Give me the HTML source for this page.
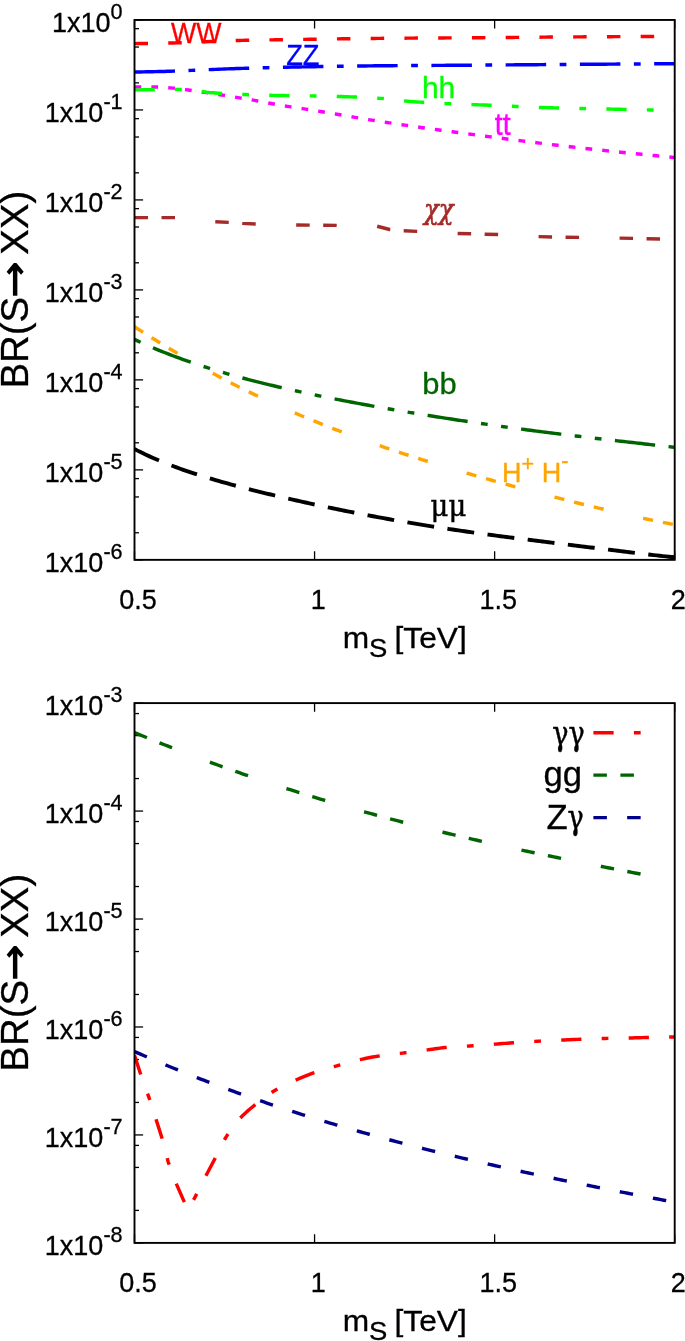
<!DOCTYPE html>
<html lang="en"><head><meta charset="utf-8"><title>BR(S &#8594; XX) vs m_S</title>
<style>html,body{margin:0;padding:0;background:#fff}svg{display:block;will-change:transform}text{font-family:"Liberation Sans", Arial, Helvetica, sans-serif;font-size:27px;color:#000;fill:currentColor;stroke:currentColor;stroke-width:.3px}.sym{font-family:"Liberation Serif", "DejaVu Serif", serif}.chi{font-family:"DejaVu Serif", "Liberation Serif", serif;font-style:italic;stroke-width:.7px}.dsf{font-family:"DejaVu Serif", "Liberation Serif", serif;stroke-width:.5px}</style></head><body>
<svg width="685" height="1341" viewBox="0 0 685 1341" role="img" aria-label="Branching ratios BR(S to XX) versus m_S in TeV">
<rect width="685" height="1341" fill="#fff"/>
<g id="panel-top">
<g stroke="#000" stroke-width="1.3" fill="none"><path d="M134.5 19.95h8.6"/><path d="M134.5 28.67h4.5"/><path d="M134.5 47.04h4.5"/><path d="M134.5 82.85h4.5"/><path d="M134.5 109.93h8.6"/><path d="M134.5 118.65h4.5"/><path d="M134.5 137.02h4.5"/><path d="M134.5 172.83h4.5"/><path d="M134.5 199.92h8.6"/><path d="M134.5 208.64h4.5"/><path d="M134.5 227h4.5"/><path d="M134.5 262.81h4.5"/><path d="M134.5 289.9h8.6"/><path d="M134.5 298.62h4.5"/><path d="M134.5 316.99h4.5"/><path d="M134.5 352.8h4.5"/><path d="M134.5 379.88h8.6"/><path d="M134.5 388.6h4.5"/><path d="M134.5 406.97h4.5"/><path d="M134.5 442.78h4.5"/><path d="M134.5 469.87h8.6"/><path d="M134.5 478.59h4.5"/><path d="M134.5 496.95h4.5"/><path d="M134.5 532.76h4.5"/><path d="M134.5 559.85h8.6"/><path d="M134.5 559.85v-8.6M134.5 19.95v8.6"/><path d="M314.57 559.85v-8.6M314.57 19.95v8.6"/><path d="M494.63 559.85v-8.6M494.63 19.95v8.6"/><path d="M674.7 559.85v-8.6M674.7 19.95v8.6"/></g>
<text x="122.6" y="31.95" text-anchor="end"><tspan>1x10</tspan><tspan font-size="21.6" dy="-13.2">0</tspan></text>
<text x="122.6" y="121.93" text-anchor="end"><tspan>1x10</tspan><tspan font-size="21.6" dy="-13.2">-1</tspan></text>
<text x="122.6" y="211.92" text-anchor="end"><tspan>1x10</tspan><tspan font-size="21.6" dy="-13.2">-2</tspan></text>
<text x="122.6" y="301.9" text-anchor="end"><tspan>1x10</tspan><tspan font-size="21.6" dy="-13.2">-3</tspan></text>
<text x="122.6" y="391.88" text-anchor="end"><tspan>1x10</tspan><tspan font-size="21.6" dy="-13.2">-4</tspan></text>
<text x="122.6" y="481.87" text-anchor="end"><tspan>1x10</tspan><tspan font-size="21.6" dy="-13.2">-5</tspan></text>
<text x="122.6" y="571.85" text-anchor="end"><tspan>1x10</tspan><tspan font-size="21.6" dy="-13.2">-6</tspan></text>
<text x="138.1" y="609.15" text-anchor="middle">0.5</text>
<text x="318.17" y="609.15" text-anchor="middle">1</text>
<text x="498.23" y="609.15" text-anchor="middle">1.5</text>
<text x="678.3" y="609.15" text-anchor="middle">2</text>
<clipPath id="clipTop"><rect x="134.5" y="19.95" width="540.2" height="539.9"/></clipPath>
<g clip-path="url(#clipTop)" fill="none" stroke-width="3.45">
<path id="c-ww" stroke="#ff0000" stroke-dasharray="13.5 20.25" stroke-dashoffset="0" d="M134.5 43.6 L137.5 43.58 L140.5 43.55 L143.5 43.52 L146.5 43.48 L149.51 43.44 L152.51 43.39 L155.51 43.33 L158.51 43.27 L161.51 43.21 L164.51 43.15 L167.51 43.08 L170.51 43.01 L173.51 42.94 L176.52 42.86 L179.52 42.77 L182.52 42.67 L185.52 42.55 L188.52 42.43 L191.52 42.3 L194.52 42.17 L197.52 42.04 L200.52 41.9 L203.53 41.78 L206.53 41.66 L209.53 41.54 L212.53 41.43 L215.53 41.31 L218.53 41.2 L221.53 41.08 L224.53 40.97 L227.53 40.85 L230.54 40.75 L233.54 40.65 L236.54 40.55 L239.54 40.47 L242.54 40.39 L245.54 40.33 L248.54 40.26 L251.54 40.2 L254.54 40.15 L257.55 40.09 L260.55 40.04 L263.55 39.99 L266.55 39.95 L269.55 39.9 L272.55 39.85 L275.55 39.8 L278.55 39.75 L281.55 39.71 L284.56 39.66 L287.56 39.61 L290.56 39.57 L293.56 39.53 L296.56 39.48 L299.56 39.44 L302.56 39.39 L305.56 39.35 L308.56 39.31 L311.57 39.26 L314.57 39.22 L317.57 39.17 L320.57 39.12 L323.57 39.08 L326.57 39.03 L329.57 38.99 L332.57 38.94 L335.57 38.9 L338.58 38.86 L341.58 38.82 L344.58 38.78 L347.58 38.74 L350.58 38.7 L353.58 38.66 L356.58 38.63 L359.58 38.59 L362.58 38.55 L365.59 38.52 L368.59 38.48 L371.59 38.45 L374.59 38.42 L377.59 38.39 L380.59 38.37 L383.59 38.34 L386.59 38.31 L389.59 38.29 L392.6 38.27 L395.6 38.24 L398.6 38.22 L401.6 38.2 L404.6 38.18 L407.6 38.15 L410.6 38.13 L413.6 38.11 L416.6 38.09 L419.61 38.07 L422.61 38.05 L425.61 38.03 L428.61 38.01 L431.61 37.99 L434.61 37.97 L437.61 37.96 L440.61 37.94 L443.61 37.92 L446.62 37.9 L449.62 37.88 L452.62 37.86 L455.62 37.84 L458.62 37.82 L461.62 37.8 L464.62 37.79 L467.62 37.77 L470.62 37.75 L473.63 37.73 L476.63 37.71 L479.63 37.69 L482.63 37.67 L485.63 37.64 L488.63 37.62 L491.63 37.59 L494.63 37.57 L497.63 37.54 L500.64 37.52 L503.64 37.49 L506.64 37.46 L509.64 37.44 L512.64 37.41 L515.64 37.38 L518.64 37.35 L521.64 37.32 L524.64 37.3 L527.65 37.27 L530.65 37.24 L533.65 37.21 L536.65 37.19 L539.65 37.16 L542.65 37.14 L545.65 37.11 L548.65 37.09 L551.65 37.06 L554.66 37.04 L557.66 37.02 L560.66 37 L563.66 36.97 L566.66 36.95 L569.66 36.93 L572.66 36.91 L575.66 36.89 L578.66 36.87 L581.67 36.85 L584.67 36.83 L587.67 36.82 L590.67 36.8 L593.67 36.78 L596.67 36.76 L599.67 36.74 L602.67 36.72 L605.67 36.7 L608.68 36.69 L611.68 36.67 L614.68 36.65 L617.68 36.64 L620.68 36.62 L623.68 36.61 L626.68 36.59 L629.68 36.57 L632.68 36.56 L635.69 36.55 L638.69 36.53 L641.69 36.52 L644.69 36.51 L647.69 36.49 L650.69 36.48 L653.69 36.47 L656.69 36.46 L659.69 36.45 L662.7 36.44 L665.7 36.43 L668.7 36.42 L671.7 36.41 L674.7 36.4"/>
<path id="c-zz" stroke="#0000ff" stroke-dasharray="40.5 13.5 6.75 13.5" stroke-dashoffset="0" d="M134.5 72 L137.5 71.97 L140.5 71.93 L143.5 71.89 L146.5 71.83 L149.51 71.77 L152.51 71.71 L155.51 71.64 L158.51 71.57 L161.51 71.49 L164.51 71.41 L167.51 71.32 L170.51 71.23 L173.51 71.14 L176.52 71.05 L179.52 70.94 L182.52 70.82 L185.52 70.68 L188.52 70.54 L191.52 70.39 L194.52 70.25 L197.52 70.11 L200.52 69.98 L203.53 69.85 L206.53 69.73 L209.53 69.6 L212.53 69.48 L215.53 69.36 L218.53 69.24 L221.53 69.12 L224.53 69.01 L227.53 68.89 L230.54 68.79 L233.54 68.68 L236.54 68.58 L239.54 68.48 L242.54 68.38 L245.54 68.29 L248.54 68.19 L251.54 68.1 L254.54 68.01 L257.55 67.93 L260.55 67.84 L263.55 67.76 L266.55 67.69 L269.55 67.61 L272.55 67.54 L275.55 67.47 L278.55 67.4 L281.55 67.33 L284.56 67.27 L287.56 67.2 L290.56 67.14 L293.56 67.08 L296.56 67.02 L299.56 66.96 L302.56 66.9 L305.56 66.85 L308.56 66.8 L311.57 66.74 L314.57 66.69 L317.57 66.64 L320.57 66.59 L323.57 66.55 L326.57 66.5 L329.57 66.45 L332.57 66.41 L335.57 66.36 L338.58 66.32 L341.58 66.28 L344.58 66.23 L347.58 66.19 L350.58 66.14 L353.58 66.1 L356.58 66.06 L359.58 66.01 L362.58 65.97 L365.59 65.93 L368.59 65.9 L371.59 65.86 L374.59 65.83 L377.59 65.8 L380.59 65.77 L383.59 65.75 L386.59 65.72 L389.59 65.7 L392.6 65.67 L395.6 65.65 L398.6 65.63 L401.6 65.61 L404.6 65.59 L407.6 65.57 L410.6 65.55 L413.6 65.53 L416.6 65.51 L419.61 65.49 L422.61 65.48 L425.61 65.46 L428.61 65.44 L431.61 65.42 L434.61 65.4 L437.61 65.39 L440.61 65.37 L443.61 65.35 L446.62 65.33 L449.62 65.31 L452.62 65.29 L455.62 65.27 L458.62 65.25 L461.62 65.23 L464.62 65.21 L467.62 65.19 L470.62 65.17 L473.63 65.15 L476.63 65.12 L479.63 65.1 L482.63 65.08 L485.63 65.06 L488.63 65.04 L491.63 65.01 L494.63 64.99 L497.63 64.97 L500.64 64.94 L503.64 64.92 L506.64 64.9 L509.64 64.87 L512.64 64.85 L515.64 64.82 L518.64 64.8 L521.64 64.78 L524.64 64.75 L527.65 64.73 L530.65 64.7 L533.65 64.68 L536.65 64.66 L539.65 64.63 L542.65 64.61 L545.65 64.58 L548.65 64.56 L551.65 64.54 L554.66 64.51 L557.66 64.49 L560.66 64.47 L563.66 64.45 L566.66 64.42 L569.66 64.4 L572.66 64.38 L575.66 64.36 L578.66 64.34 L581.67 64.32 L584.67 64.3 L587.67 64.28 L590.67 64.26 L593.67 64.24 L596.67 64.22 L599.67 64.2 L602.67 64.18 L605.67 64.16 L608.68 64.14 L611.68 64.12 L614.68 64.1 L617.68 64.08 L620.68 64.06 L623.68 64.04 L626.68 64.02 L629.68 64 L632.68 63.98 L635.69 63.96 L638.69 63.94 L641.69 63.92 L644.69 63.9 L647.69 63.88 L650.69 63.86 L653.69 63.84 L656.69 63.82 L659.69 63.8 L662.7 63.78 L665.7 63.76 L668.7 63.74 L671.7 63.72 L674.7 63.7"/>
<path id="c-tt" stroke="#ff00ff" stroke-dasharray="6.75 10.12" stroke-dashoffset="0" d="M134.5 87 L137.5 87 L140.5 87 L143.5 87 L146.5 87 L149.51 87 L152.51 87 L155.51 87 L158.51 87.06 L161.51 87.2 L164.51 87.4 L167.51 87.63 L170.51 87.88 L173.51 88.13 L176.52 88.45 L179.52 88.83 L182.52 89.24 L185.52 89.66 L188.52 90.07 L191.52 90.48 L194.52 90.89 L197.52 91.32 L200.52 91.75 L203.53 92.19 L206.53 92.63 L209.53 93.08 L212.53 93.54 L215.53 94 L218.53 94.46 L221.53 94.93 L224.53 95.4 L227.53 95.87 L230.54 96.36 L233.54 96.84 L236.54 97.34 L239.54 97.83 L242.54 98.34 L245.54 98.85 L248.54 99.37 L251.54 99.89 L254.54 100.42 L257.55 100.96 L260.55 101.53 L263.55 102.1 L266.55 102.68 L269.55 103.25 L272.55 103.8 L275.55 104.34 L278.55 104.87 L281.55 105.4 L284.56 105.91 L287.56 106.41 L290.56 106.89 L293.56 107.33 L296.56 107.76 L299.56 108.19 L302.56 108.64 L305.56 109.1 L308.56 109.57 L311.57 110.05 L314.57 110.53 L317.57 111.02 L320.57 111.51 L323.57 112.01 L326.57 112.51 L329.57 113.01 L332.57 113.52 L335.57 114.03 L338.58 114.54 L341.58 115.05 L344.58 115.56 L347.58 116.07 L350.58 116.58 L353.58 117.09 L356.58 117.59 L359.58 118.1 L362.58 118.6 L365.59 119.1 L368.59 119.59 L371.59 120.08 L374.59 120.56 L377.59 121.04 L380.59 121.51 L383.59 121.98 L386.59 122.44 L389.59 122.89 L392.6 123.34 L395.6 123.79 L398.6 124.23 L401.6 124.67 L404.6 125.11 L407.6 125.54 L410.6 125.97 L413.6 126.4 L416.6 126.83 L419.61 127.26 L422.61 127.68 L425.61 128.1 L428.61 128.52 L431.61 128.94 L434.61 129.35 L437.61 129.77 L440.61 130.18 L443.61 130.59 L446.62 131 L449.62 131.4 L452.62 131.81 L455.62 132.21 L458.62 132.62 L461.62 133.02 L464.62 133.42 L467.62 133.82 L470.62 134.22 L473.63 134.62 L476.63 135.01 L479.63 135.41 L482.63 135.81 L485.63 136.2 L488.63 136.6 L491.63 136.99 L494.63 137.39 L497.63 137.78 L500.64 138.17 L503.64 138.56 L506.64 138.95 L509.64 139.34 L512.64 139.72 L515.64 140.11 L518.64 140.49 L521.64 140.87 L524.64 141.25 L527.65 141.63 L530.65 142.01 L533.65 142.38 L536.65 142.75 L539.65 143.12 L542.65 143.49 L545.65 143.86 L548.65 144.22 L551.65 144.58 L554.66 144.94 L557.66 145.29 L560.66 145.65 L563.66 146 L566.66 146.35 L569.66 146.69 L572.66 147.03 L575.66 147.37 L578.66 147.71 L581.67 148.04 L584.67 148.37 L587.67 148.7 L590.67 149.03 L593.67 149.36 L596.67 149.68 L599.67 150 L602.67 150.32 L605.67 150.64 L608.68 150.96 L611.68 151.27 L614.68 151.59 L617.68 151.9 L620.68 152.21 L623.68 152.52 L626.68 152.82 L629.68 153.13 L632.68 153.43 L635.69 153.74 L638.69 154.04 L641.69 154.34 L644.69 154.64 L647.69 154.94 L650.69 155.24 L653.69 155.54 L656.69 155.83 L659.69 156.13 L662.7 156.43 L665.7 156.72 L668.7 157.02 L671.7 157.31 L674.7 157.6"/>
<path id="c-hh" stroke="#00ff00" stroke-dasharray="20.25 20.25 6.75 20.25" stroke-dashoffset="0" d="M134.5 89.9 L137.5 89.87 L140.5 89.85 L143.5 89.82 L146.5 89.79 L149.51 89.76 L152.51 89.73 L155.51 89.69 L158.51 89.65 L161.51 89.6 L164.51 89.55 L167.51 89.5 L170.51 89.46 L173.51 89.42 L176.52 89.4 L179.52 89.42 L182.52 89.53 L185.52 89.73 L188.52 89.98 L191.52 90.27 L194.52 90.56 L197.52 90.88 L200.52 91.29 L203.53 91.75 L206.53 92.2 L209.53 92.58 L212.53 92.84 L215.53 93.04 L218.53 93.23 L221.53 93.41 L224.53 93.58 L227.53 93.75 L230.54 93.91 L233.54 94.06 L236.54 94.2 L239.54 94.33 L242.54 94.46 L245.54 94.58 L248.54 94.69 L251.54 94.8 L254.54 94.9 L257.55 94.99 L260.55 95.08 L263.55 95.16 L266.55 95.24 L269.55 95.31 L272.55 95.38 L275.55 95.44 L278.55 95.49 L281.55 95.54 L284.56 95.59 L287.56 95.62 L290.56 95.66 L293.56 95.69 L296.56 95.72 L299.56 95.75 L302.56 95.78 L305.56 95.81 L308.56 95.85 L311.57 95.89 L314.57 95.94 L317.57 96 L320.57 96.05 L323.57 96.11 L326.57 96.18 L329.57 96.25 L332.57 96.32 L335.57 96.4 L338.58 96.48 L341.58 96.56 L344.58 96.66 L347.58 96.75 L350.58 96.85 L353.58 96.97 L356.58 97.09 L359.58 97.22 L362.58 97.36 L365.59 97.5 L368.59 97.66 L371.59 97.82 L374.59 98 L377.59 98.18 L380.59 98.37 L383.59 98.59 L386.59 98.85 L389.59 99.15 L392.6 99.48 L395.6 99.83 L398.6 100.18 L401.6 100.53 L404.6 100.87 L407.6 101.18 L410.6 101.47 L413.6 101.71 L416.6 101.92 L419.61 102.13 L422.61 102.32 L425.61 102.51 L428.61 102.69 L431.61 102.86 L434.61 103.02 L437.61 103.18 L440.61 103.33 L443.61 103.48 L446.62 103.61 L449.62 103.75 L452.62 103.88 L455.62 103.99 L458.62 104.11 L461.62 104.21 L464.62 104.32 L467.62 104.42 L470.62 104.52 L473.63 104.63 L476.63 104.74 L479.63 104.85 L482.63 104.96 L485.63 105.09 L488.63 105.21 L491.63 105.34 L494.63 105.47 L497.63 105.61 L500.64 105.74 L503.64 105.88 L506.64 106.02 L509.64 106.16 L512.64 106.3 L515.64 106.43 L518.64 106.57 L521.64 106.7 L524.64 106.83 L527.65 106.96 L530.65 107.09 L533.65 107.21 L536.65 107.32 L539.65 107.43 L542.65 107.53 L545.65 107.63 L548.65 107.72 L551.65 107.8 L554.66 107.89 L557.66 107.97 L560.66 108.04 L563.66 108.12 L566.66 108.19 L569.66 108.26 L572.66 108.32 L575.66 108.39 L578.66 108.46 L581.67 108.52 L584.67 108.58 L587.67 108.64 L590.67 108.7 L593.67 108.76 L596.67 108.82 L599.67 108.88 L602.67 108.95 L605.67 109.01 L608.68 109.07 L611.68 109.13 L614.68 109.19 L617.68 109.26 L620.68 109.32 L623.68 109.39 L626.68 109.45 L629.68 109.52 L632.68 109.58 L635.69 109.64 L638.69 109.7 L641.69 109.76 L644.69 109.82 L647.69 109.88 L650.69 109.93 L653.69 109.98 L656.69 110.03 L659.69 110.08 L662.7 110.13 L665.7 110.17 L668.7 110.22 L671.7 110.26 L674.7 110.3"/>
<path id="c-chi" stroke="#a52a2a" stroke-dasharray="13.5 13.5 13.5 40.5" stroke-dashoffset="0" d="M134.5 217.6 L175 217.6 L215 221.8 L228.9 222.4 L242.4 223.4 L255.5 224 L296 225 L336.5 225.4 L377 226.2 L389.6 229.5 L403 230.8 L417.3 231.4 L457 233.4 L470.4 233.8 L484.7 234.3 L498.2 234.6 L538.3 236.6 L552.2 237 L565.3 237.2 L578.8 237.4 L619.6 238.1 L633.1 238.4 L647 238.8 L660.5 239 L674.7 239.2"/>
<path id="c-bb" stroke="#006400" stroke-dasharray="6.75 13.5 40.5 13.5 6.75 13.5" stroke-dashoffset="0" d="M134.5 339.42 L137.5 340.84 L140.5 342.23 L143.5 343.59 L146.5 344.93 L149.51 346.25 L152.51 347.54 L155.51 348.81 L158.51 350.06 L161.51 351.29 L164.51 352.5 L167.51 353.68 L170.51 354.85 L173.51 356 L176.52 357.12 L179.52 358.23 L182.52 359.32 L185.52 360.4 L188.52 361.45 L191.52 362.49 L194.52 363.51 L197.52 364.52 L200.52 365.51 L203.53 366.49 L206.53 367.45 L209.53 368.4 L212.53 369.33 L215.53 370.25 L218.53 371.15 L221.53 372.05 L224.53 372.93 L227.53 373.79 L230.54 374.65 L233.54 375.49 L236.54 376.33 L239.54 377.15 L242.54 377.96 L245.54 378.76 L248.54 379.55 L251.54 380.33 L254.54 381.1 L257.55 381.86 L260.55 382.62 L263.55 383.36 L266.55 384.1 L269.55 384.82 L272.55 385.54 L275.55 386.25 L278.55 386.96 L281.55 387.65 L284.56 388.34 L287.56 389.02 L290.56 389.69 L293.56 390.36 L296.56 391.02 L299.56 391.68 L302.56 392.33 L305.56 392.97 L308.56 393.6 L311.57 394.24 L314.57 394.86 L317.57 395.48 L320.57 396.09 L323.57 396.7 L326.57 397.31 L329.57 397.91 L332.57 398.5 L335.57 399.09 L338.58 399.68 L341.58 400.26 L344.58 400.83 L347.58 401.41 L350.58 401.98 L353.58 402.54 L356.58 403.1 L359.58 403.66 L362.58 404.21 L365.59 404.76 L368.59 405.3 L371.59 405.84 L374.59 406.38 L377.59 406.91 L380.59 407.45 L383.59 407.97 L386.59 408.5 L389.59 409.02 L392.6 409.54 L395.6 410.05 L398.6 410.56 L401.6 411.07 L404.6 411.58 L407.6 412.08 L410.6 412.58 L413.6 413.07 L416.6 413.57 L419.61 414.06 L422.61 414.55 L425.61 415.03 L428.61 415.51 L431.61 415.99 L434.61 416.47 L437.61 416.94 L440.61 417.41 L443.61 417.88 L446.62 418.35 L449.62 418.81 L452.62 419.27 L455.62 419.73 L458.62 420.18 L461.62 420.64 L464.62 421.08 L467.62 421.53 L470.62 421.98 L473.63 422.42 L476.63 422.86 L479.63 423.29 L482.63 423.73 L485.63 424.16 L488.63 424.59 L491.63 425.01 L494.63 425.44 L497.63 425.86 L500.64 426.28 L503.64 426.69 L506.64 427.11 L509.64 427.52 L512.64 427.92 L515.64 428.33 L518.64 428.73 L521.64 429.13 L524.64 429.53 L527.65 429.93 L530.65 430.32 L533.65 430.71 L536.65 431.1 L539.65 431.49 L542.65 431.87 L545.65 432.26 L548.65 432.64 L551.65 433.01 L554.66 433.39 L557.66 433.76 L560.66 434.13 L563.66 434.5 L566.66 434.87 L569.66 435.23 L572.66 435.6 L575.66 435.96 L578.66 436.32 L581.67 436.68 L584.67 437.03 L587.67 437.39 L590.67 437.74 L593.67 438.09 L596.67 438.44 L599.67 438.79 L602.67 439.13 L605.67 439.48 L608.68 439.83 L611.68 440.17 L614.68 440.51 L617.68 440.85 L620.68 441.2 L623.68 441.54 L626.68 441.88 L629.68 442.22 L632.68 442.56 L635.69 442.9 L638.69 443.24 L641.69 443.58 L644.69 443.92 L647.69 444.26 L650.69 444.6 L653.69 444.94 L656.69 445.28 L659.69 445.63 L662.7 445.97 L665.7 446.32 L668.7 446.66 L671.7 447.01 L674.7 447.37"/>
<path id="c-hpm" stroke="#ffa500" stroke-dasharray="10.12 10.12 10.12 10.12 10.12 40.5" stroke-dashoffset="0" d="M134.5 326.75 L137.5 328.69 L140.5 330.62 L143.5 332.54 L146.5 334.44 L149.51 336.34 L152.51 338.22 L155.51 340.08 L158.51 341.94 L161.51 343.78 L164.51 345.61 L167.51 347.43 L170.51 349.23 L173.51 351.02 L176.52 352.8 L179.52 354.57 L182.52 356.32 L185.52 358.06 L188.52 359.79 L191.52 361.5 L194.52 363.2 L197.52 364.89 L200.52 366.57 L203.53 368.23 L206.53 369.88 L209.53 371.52 L212.53 373.15 L215.53 374.76 L218.53 376.36 L221.53 377.94 L224.53 379.52 L227.53 381.08 L230.54 382.63 L233.54 384.17 L236.54 385.69 L239.54 387.2 L242.54 388.7 L245.54 390.19 L248.54 391.67 L251.54 393.13 L254.54 394.58 L257.55 396.02 L260.55 397.45 L263.55 398.86 L266.55 400.27 L269.55 401.66 L272.55 403.04 L275.55 404.41 L278.55 405.77 L281.55 407.12 L284.56 408.45 L287.56 409.78 L290.56 411.09 L293.56 412.4 L296.56 413.69 L299.56 414.97 L302.56 416.24 L305.56 417.5 L308.56 418.75 L311.57 419.99 L314.57 421.22 L317.57 422.44 L320.57 423.65 L323.57 424.85 L326.57 426.05 L329.57 427.23 L332.57 428.4 L335.57 429.56 L338.58 430.72 L341.58 431.86 L344.58 433 L347.58 434.12 L350.58 435.24 L353.58 436.35 L356.58 437.45 L359.58 438.55 L362.58 439.63 L365.59 440.71 L368.59 441.78 L371.59 442.84 L374.59 443.89 L377.59 444.94 L380.59 445.98 L383.59 447.01 L386.59 448.03 L389.59 449.05 L392.6 450.06 L395.6 451.06 L398.6 452.06 L401.6 453.05 L404.6 454.04 L407.6 455.01 L410.6 455.98 L413.6 456.95 L416.6 457.91 L419.61 458.86 L422.61 459.81 L425.61 460.75 L428.61 461.69 L431.61 462.62 L434.61 463.54 L437.61 464.46 L440.61 465.38 L443.61 466.29 L446.62 467.19 L449.62 468.09 L452.62 468.99 L455.62 469.88 L458.62 470.77 L461.62 471.65 L464.62 472.53 L467.62 473.4 L470.62 474.27 L473.63 475.14 L476.63 476 L479.63 476.85 L482.63 477.71 L485.63 478.56 L488.63 479.4 L491.63 480.24 L494.63 481.08 L497.63 481.92 L500.64 482.75 L503.64 483.58 L506.64 484.4 L509.64 485.22 L512.64 486.04 L515.64 486.85 L518.64 487.66 L521.64 488.47 L524.64 489.28 L527.65 490.08 L530.65 490.88 L533.65 491.67 L536.65 492.46 L539.65 493.25 L542.65 494.04 L545.65 494.82 L548.65 495.6 L551.65 496.37 L554.66 497.15 L557.66 497.92 L560.66 498.68 L563.66 499.45 L566.66 500.21 L569.66 500.96 L572.66 501.72 L575.66 502.47 L578.66 503.21 L581.67 503.95 L584.67 504.69 L587.67 505.43 L590.67 506.16 L593.67 506.89 L596.67 507.61 L599.67 508.33 L602.67 509.05 L605.67 509.76 L608.68 510.47 L611.68 511.17 L614.68 511.87 L617.68 512.56 L620.68 513.25 L623.68 513.94 L626.68 514.62 L629.68 515.29 L632.68 515.96 L635.69 516.62 L638.69 517.28 L641.69 517.93 L644.69 518.57 L647.69 519.21 L650.69 519.85 L653.69 520.47 L656.69 521.09 L659.69 521.7 L662.7 522.31 L665.7 522.9 L668.7 523.49 L671.7 524.08 L674.7 524.65"/>
<path id="c-mu" stroke="#000000" stroke-width="3.9" stroke-dasharray="27 13.5" stroke-dashoffset="0" d="M134.5 449.06 L137.5 450.61 L140.5 452.11 L143.5 453.57 L146.5 454.99 L149.51 456.38 L152.51 457.73 L155.51 459.04 L158.51 460.32 L161.51 461.58 L164.51 462.8 L167.51 463.99 L170.51 465.15 L173.51 466.29 L176.52 467.41 L179.52 468.5 L182.52 469.57 L185.52 470.61 L188.52 471.64 L191.52 472.65 L194.52 473.63 L197.52 474.6 L200.52 475.56 L203.53 476.49 L206.53 477.42 L209.53 478.32 L212.53 479.22 L215.53 480.1 L218.53 480.96 L221.53 481.82 L224.53 482.66 L227.53 483.49 L230.54 484.32 L233.54 485.13 L236.54 485.93 L239.54 486.73 L242.54 487.51 L245.54 488.29 L248.54 489.06 L251.54 489.82 L254.54 490.57 L257.55 491.32 L260.55 492.06 L263.55 492.8 L266.55 493.53 L269.55 494.25 L272.55 494.96 L275.55 495.68 L278.55 496.38 L281.55 497.08 L284.56 497.78 L287.56 498.47 L290.56 499.15 L293.56 499.83 L296.56 500.51 L299.56 501.18 L302.56 501.85 L305.56 502.51 L308.56 503.17 L311.57 503.82 L314.57 504.47 L317.57 505.12 L320.57 505.76 L323.57 506.39 L326.57 507.02 L329.57 507.65 L332.57 508.27 L335.57 508.89 L338.58 509.51 L341.58 510.12 L344.58 510.73 L347.58 511.33 L350.58 511.92 L353.58 512.52 L356.58 513.11 L359.58 513.69 L362.58 514.27 L365.59 514.85 L368.59 515.42 L371.59 515.98 L374.59 516.54 L377.59 517.1 L380.59 517.65 L383.59 518.2 L386.59 518.75 L389.59 519.28 L392.6 519.82 L395.6 520.35 L398.6 520.87 L401.6 521.39 L404.6 521.91 L407.6 522.42 L410.6 522.93 L413.6 523.43 L416.6 523.93 L419.61 524.42 L422.61 524.91 L425.61 525.39 L428.61 525.87 L431.61 526.35 L434.61 526.82 L437.61 527.28 L440.61 527.75 L443.61 528.2 L446.62 528.66 L449.62 529.11 L452.62 529.55 L455.62 529.99 L458.62 530.43 L461.62 530.86 L464.62 531.29 L467.62 531.72 L470.62 532.14 L473.63 532.56 L476.63 532.98 L479.63 533.39 L482.63 533.8 L485.63 534.21 L488.63 534.61 L491.63 535.01 L494.63 535.41 L497.63 535.81 L500.64 536.2 L503.64 536.59 L506.64 536.98 L509.64 537.37 L512.64 537.75 L515.64 538.14 L518.64 538.52 L521.64 538.9 L524.64 539.27 L527.65 539.65 L530.65 540.03 L533.65 540.4 L536.65 540.78 L539.65 541.15 L542.65 541.52 L545.65 541.89 L548.65 542.26 L551.65 542.63 L554.66 543 L557.66 543.37 L560.66 543.74 L563.66 544.11 L566.66 544.48 L569.66 544.85 L572.66 545.22 L575.66 545.59 L578.66 545.96 L581.67 546.33 L584.67 546.7 L587.67 547.07 L590.67 547.44 L593.67 547.81 L596.67 548.18 L599.67 548.55 L602.67 548.92 L605.67 549.3 L608.68 549.67 L611.68 550.04 L614.68 550.41 L617.68 550.78 L620.68 551.14 L623.68 551.51 L626.68 551.88 L629.68 552.24 L632.68 552.61 L635.69 552.97 L638.69 553.33 L641.69 553.68 L644.69 554.04 L647.69 554.39 L650.69 554.73 L653.69 555.07 L656.69 555.41 L659.69 555.74 L662.7 556.07 L665.7 556.39 L668.7 556.7 L671.7 557.01 L674.7 557.31"/>
</g>
<rect x="134.5" y="19.95" width="540.2" height="539.9" fill="none" stroke="#000" stroke-width="1.9"/>
<text transform="translate(170.9 43.1) scale(.99 1.06)" style="color:#ff0000">WW</text>
<text transform="translate(286.2 65.1) scale(1.01 1.10)" style="color:#0000ff">ZZ</text>
<text x="421.9" y="98" style="color:#00ff00;font-size:30px">hh</text>
<text transform="translate(494.8 134.9) scale(1.06 1.17)" style="color:#ff00ff">tt</text>
<text class="chi" transform="translate(424 219) scale(.864 1)" style="color:#a52a2a;font-size:28.4px">&#967;&#967;</text>
<text transform="translate(422.2 394.1) scale(1.03 1)" style="color:#006400;font-size:30px">bb</text>
<text x="502" y="481.6" style="color:#ffa500">H<tspan font-size="21.6" dy="-10.6">+</tspan><tspan dy="10.6"> H</tspan><tspan font-size="21.6" dy="-13.2">-</tspan></text>
<text transform="translate(430.6 516.3) scale(.92 1)" class="dsf" style="color:#000000;font-size:29.9px">&#956;&#956;</text>
<g transform="translate(27.55 388.6) rotate(-90)">
<text transform="scale(0.991 1)" style="font-size:38.8px">BR(S</text>
<text transform="translate(90.4 -0.15) scale(1.146 0.97)" style="font-family:'DejaVu Sans',sans-serif;font-weight:bold;font-size:39px;stroke-width:0">&#8594; </text>
<text transform="translate(133.95 0) scale(0.991 1)" style="font-size:38.8px">XX)</text>
</g>
<text transform="translate(404.7 647.8) scale(1.056 1)" text-anchor="middle" style="font-size:30px">m<tspan font-size="26" dy="9.2">S</tspan><tspan dy="-9.2" dx="-1.6"> [TeV]</tspan></text>
</g>
<g id="panel-bottom">
<g stroke="#000" stroke-width="1.3" fill="none"><path d="M134.5 703.1h8.6"/><path d="M134.5 713.56h4.5"/><path d="M134.5 735.6h4.5"/><path d="M134.5 778.56h4.5"/><path d="M134.5 811.06h8.6"/><path d="M134.5 821.52h4.5"/><path d="M134.5 843.56h4.5"/><path d="M134.5 886.52h4.5"/><path d="M134.5 919.02h8.6"/><path d="M134.5 929.48h4.5"/><path d="M134.5 951.52h4.5"/><path d="M134.5 994.48h4.5"/><path d="M134.5 1026.98h8.6"/><path d="M134.5 1037.44h4.5"/><path d="M134.5 1059.48h4.5"/><path d="M134.5 1102.44h4.5"/><path d="M134.5 1134.94h8.6"/><path d="M134.5 1145.4h4.5"/><path d="M134.5 1167.44h4.5"/><path d="M134.5 1210.4h4.5"/><path d="M134.5 1242.9h8.6"/><path d="M134.5 1242.9v-8.6M134.5 703.1v8.6"/><path d="M314.57 1242.9v-8.6M314.57 703.1v8.6"/><path d="M494.63 1242.9v-8.6M494.63 703.1v8.6"/><path d="M674.7 1242.9v-8.6M674.7 703.1v8.6"/></g>
<text x="122.6" y="715.1" text-anchor="end"><tspan>1x10</tspan><tspan font-size="21.6" dy="-13.2">-3</tspan></text>
<text x="122.6" y="823.06" text-anchor="end"><tspan>1x10</tspan><tspan font-size="21.6" dy="-13.2">-4</tspan></text>
<text x="122.6" y="931.02" text-anchor="end"><tspan>1x10</tspan><tspan font-size="21.6" dy="-13.2">-5</tspan></text>
<text x="122.6" y="1038.98" text-anchor="end"><tspan>1x10</tspan><tspan font-size="21.6" dy="-13.2">-6</tspan></text>
<text x="122.6" y="1146.94" text-anchor="end"><tspan>1x10</tspan><tspan font-size="21.6" dy="-13.2">-7</tspan></text>
<text x="122.6" y="1254.9" text-anchor="end"><tspan>1x10</tspan><tspan font-size="21.6" dy="-13.2">-8</tspan></text>
<text x="138.1" y="1292.2" text-anchor="middle">0.5</text>
<text x="318.17" y="1292.2" text-anchor="middle">1</text>
<text x="498.23" y="1292.2" text-anchor="middle">1.5</text>
<text x="678.3" y="1292.2" text-anchor="middle">2</text>
<clipPath id="clipBot"><rect x="134.5" y="703.1" width="540.2" height="539.8"/></clipPath>
<g clip-path="url(#clipBot)" fill="none" stroke-width="3.45">
<path id="c-gam" stroke="#ff0000" stroke-dasharray="20.25 20.25 6.75 20.25" stroke-dashoffset="0" d="M134.5 1055.3 L140.8 1074.8 L149 1097.6 L156.3 1120.1 L162.1 1138.5 L168.2 1162 L176.7 1184.6 L184.6 1202.7 L187.8 1210 L190.3 1205.7 L192.79 1201.27 L195.29 1196.7 L197.79 1191.93 L200.29 1186.97 L202.78 1181.95 L205.28 1177 L207.78 1172.2 L210.28 1167.49 L212.77 1162.8 L215.27 1158.05 L217.77 1153.08 L220.27 1147.93 L222.76 1142.91 L225.26 1138.32 L227.76 1134.33 L230.26 1130.64 L232.75 1127.18 L235.25 1123.95 L237.75 1120.95 L240.25 1118.16 L242.74 1115.58 L245.24 1113.18 L247.74 1110.92 L250.24 1108.78 L252.73 1106.71 L255.23 1104.7 L257.73 1102.7 L260.23 1100.73 L262.72 1098.8 L265.22 1096.93 L267.72 1095.12 L270.22 1093.4 L272.71 1091.77 L275.21 1090.26 L277.71 1088.84 L280.21 1087.49 L282.7 1086.2 L285.2 1084.97 L287.7 1083.78 L290.19 1082.62 L292.69 1081.49 L295.19 1080.37 L297.69 1079.26 L300.18 1078.17 L302.68 1077.1 L305.18 1076.05 L307.68 1075.04 L310.17 1074.07 L312.67 1073.15 L315.17 1072.27 L317.67 1071.44 L320.16 1070.64 L322.66 1069.87 L325.16 1069.13 L327.66 1068.41 L330.15 1067.7 L332.65 1067 L335.15 1066.3 L337.65 1065.6 L340.14 1064.9 L342.64 1064.19 L345.14 1063.48 L347.64 1062.79 L350.13 1062.1 L352.63 1061.44 L355.13 1060.8 L357.63 1060.19 L360.12 1059.62 L362.62 1059.07 L365.12 1058.54 L367.62 1058.02 L370.11 1057.53 L372.61 1057.05 L375.11 1056.61 L377.61 1056.19 L380.1 1055.8 L382.6 1055.44 L385.1 1055.12 L387.59 1054.81 L390.09 1054.52 L392.59 1054.24 L395.09 1053.96 L397.58 1053.68 L400.08 1053.4 L402.58 1053.1 L405.08 1052.79 L407.57 1052.48 L410.07 1052.16 L412.57 1051.84 L415.07 1051.52 L417.56 1051.2 L420.06 1050.88 L422.56 1050.55 L425.06 1050.23 L427.55 1049.9 L430.05 1049.56 L432.55 1049.2 L435.05 1048.83 L437.54 1048.47 L440.04 1048.13 L442.54 1047.82 L445.04 1047.54 L447.53 1047.32 L450.03 1047.13 L452.53 1046.96 L455.03 1046.8 L457.52 1046.65 L460.02 1046.52 L462.52 1046.38 L465.02 1046.24 L467.51 1046.1 L470.01 1045.94 L472.51 1045.77 L475.01 1045.6 L477.5 1045.42 L480 1045.24 L482.5 1045.06 L484.99 1044.87 L487.49 1044.69 L489.99 1044.5 L492.49 1044.32 L494.98 1044.13 L497.48 1043.95 L499.98 1043.76 L502.48 1043.57 L504.97 1043.37 L507.47 1043.19 L509.97 1043 L512.47 1042.82 L514.96 1042.65 L517.46 1042.48 L519.96 1042.31 L522.46 1042.14 L524.95 1041.98 L527.45 1041.82 L529.95 1041.66 L532.45 1041.51 L534.94 1041.37 L537.44 1041.23 L539.94 1041.1 L542.44 1040.97 L544.93 1040.85 L547.43 1040.73 L549.93 1040.62 L552.43 1040.51 L554.92 1040.4 L557.42 1040.28 L559.92 1040.17 L562.42 1040.06 L564.91 1039.94 L567.41 1039.82 L569.91 1039.7 L572.41 1039.59 L574.9 1039.47 L577.4 1039.36 L579.9 1039.26 L582.39 1039.16 L584.89 1039.06 L587.39 1038.97 L589.89 1038.87 L592.38 1038.78 L594.88 1038.69 L597.38 1038.61 L599.88 1038.54 L602.37 1038.47 L604.87 1038.41 L607.37 1038.35 L609.87 1038.31 L612.36 1038.27 L614.86 1038.23 L617.36 1038.19 L619.86 1038.16 L622.35 1038.12 L624.85 1038.08 L627.35 1038.03 L629.85 1037.98 L632.34 1037.91 L634.84 1037.84 L637.34 1037.76 L639.84 1037.68 L642.33 1037.6 L644.83 1037.52 L647.33 1037.44 L649.83 1037.38 L652.32 1037.32 L654.82 1037.27 L657.32 1037.21 L659.82 1037.16 L662.31 1037.11 L664.81 1037.06 L667.31 1037.02 L669.81 1036.98 L672.3 1036.94 L674.8 1036.9"/>
<path id="c-gg" stroke="#006400" stroke-dasharray="13.5 13.5 13.5 40.5" stroke-dashoffset="0" d="M134.5 732.55 L137.5 733.8 L140.49 735.04 L143.49 736.28 L146.48 737.51 L149.48 738.73 L152.48 739.95 L155.47 741.16 L158.47 742.37 L161.46 743.57 L164.46 744.76 L167.45 745.95 L170.45 747.13 L173.45 748.31 L176.44 749.48 L179.44 750.64 L182.43 751.8 L185.43 752.95 L188.43 754.1 L191.42 755.24 L194.42 756.38 L197.41 757.51 L200.41 758.63 L203.4 759.75 L206.4 760.86 L209.4 761.97 L212.39 763.07 L215.39 764.16 L218.38 765.25 L221.38 766.34 L224.38 767.41 L227.37 768.49 L230.37 769.55 L233.36 770.61 L236.36 771.67 L239.36 772.72 L242.35 773.76 L245.35 774.8 L248.34 775.84 L251.34 776.86 L254.33 777.89 L257.33 778.9 L260.33 779.91 L263.32 780.92 L266.32 781.92 L269.31 782.92 L272.31 783.91 L275.31 784.89 L278.3 785.87 L281.3 786.84 L284.29 787.81 L287.29 788.77 L290.28 789.73 L293.28 790.69 L296.28 791.63 L299.27 792.58 L302.27 793.51 L305.26 794.45 L308.26 795.37 L311.26 796.29 L314.25 797.21 L317.25 798.12 L320.24 799.03 L323.24 799.93 L326.23 800.83 L329.23 801.72 L332.23 802.61 L335.22 803.49 L338.22 804.37 L341.21 805.24 L344.21 806.11 L347.21 806.97 L350.2 807.83 L353.2 808.69 L356.19 809.53 L359.19 810.38 L362.19 811.22 L365.18 812.05 L368.18 812.88 L371.17 813.71 L374.17 814.53 L377.16 815.35 L380.16 816.16 L383.16 816.97 L386.15 817.78 L389.15 818.58 L392.14 819.37 L395.14 820.16 L398.14 820.95 L401.13 821.73 L404.13 822.51 L407.12 823.28 L410.12 824.05 L413.11 824.82 L416.11 825.58 L419.11 826.34 L422.1 827.1 L425.1 827.85 L428.09 828.59 L431.09 829.33 L434.09 830.07 L437.08 830.81 L440.08 831.54 L443.07 832.27 L446.07 832.99 L449.07 833.71 L452.06 834.43 L455.06 835.14 L458.05 835.85 L461.05 836.55 L464.04 837.26 L467.04 837.95 L470.04 838.65 L473.03 839.34 L476.03 840.03 L479.02 840.72 L482.02 841.4 L485.02 842.08 L488.01 842.75 L491.01 843.43 L494 844.1 L497 844.76 L499.99 845.43 L502.99 846.09 L505.99 846.75 L508.98 847.4 L511.98 848.05 L514.97 848.7 L517.97 849.35 L520.97 849.99 L523.96 850.64 L526.96 851.27 L529.95 851.91 L532.95 852.54 L535.94 853.18 L538.94 853.81 L541.94 854.43 L544.93 855.06 L547.93 855.68 L550.92 856.3 L553.92 856.92 L556.92 857.53 L559.91 858.14 L562.91 858.76 L565.9 859.36 L568.9 859.97 L571.9 860.58 L574.89 861.18 L577.89 861.78 L580.88 862.38 L583.88 862.98 L586.87 863.58 L589.87 864.17 L592.87 864.77 L595.86 865.36 L598.86 865.95 L601.85 866.54 L604.85 867.13 L607.85 867.71 L610.84 868.3 L613.84 868.88 L616.83 869.46 L619.83 870.05 L622.82 870.63 L625.82 871.21 L628.82 871.78 L631.81 872.36 L634.81 872.94 L637.8 873.52 L640.8 874.09"/>
<path id="c-zg" stroke="#00008b" stroke-dasharray="13.5 20.25" stroke-dashoffset="0" d="M134.5 1051.48 L137.51 1052.82 L140.52 1054.15 L143.52 1055.48 L146.53 1056.79 L149.54 1058.1 L152.55 1059.39 L155.56 1060.68 L158.56 1061.96 L161.57 1063.23 L164.58 1064.5 L167.59 1065.75 L170.59 1067 L173.6 1068.24 L176.61 1069.47 L179.62 1070.7 L182.63 1071.91 L185.63 1073.12 L188.64 1074.32 L191.65 1075.52 L194.66 1076.7 L197.67 1077.88 L200.67 1079.05 L203.68 1080.21 L206.69 1081.37 L209.7 1082.52 L212.71 1083.66 L215.71 1084.79 L218.72 1085.92 L221.73 1087.04 L224.74 1088.15 L227.75 1089.25 L230.75 1090.35 L233.76 1091.44 L236.77 1092.53 L239.78 1093.61 L242.78 1094.68 L245.79 1095.74 L248.8 1096.8 L251.81 1097.85 L254.82 1098.9 L257.82 1099.94 L260.83 1100.97 L263.84 1101.99 L266.85 1103.01 L269.86 1104.03 L272.86 1105.03 L275.87 1106.03 L278.88 1107.03 L281.89 1108.02 L284.9 1109 L287.9 1109.98 L290.91 1110.95 L293.92 1111.91 L296.93 1112.87 L299.94 1113.82 L302.94 1114.77 L305.95 1115.71 L308.96 1116.65 L311.97 1117.58 L314.97 1118.51 L317.98 1119.42 L320.99 1120.34 L324 1121.25 L327.01 1122.15 L330.01 1123.05 L333.02 1123.94 L336.03 1124.83 L339.04 1125.72 L342.05 1126.59 L345.05 1127.47 L348.06 1128.33 L351.07 1129.2 L354.08 1130.06 L357.09 1130.91 L360.09 1131.76 L363.1 1132.6 L366.11 1133.44 L369.12 1134.27 L372.12 1135.1 L375.13 1135.93 L378.14 1136.75 L381.15 1137.57 L384.16 1138.38 L387.16 1139.19 L390.17 1139.99 L393.18 1140.79 L396.19 1141.58 L399.2 1142.37 L402.2 1143.16 L405.21 1143.94 L408.22 1144.72 L411.23 1145.49 L414.24 1146.26 L417.24 1147.03 L420.25 1147.79 L423.26 1148.55 L426.27 1149.31 L429.28 1150.06 L432.28 1150.8 L435.29 1151.55 L438.3 1152.29 L441.31 1153.02 L444.31 1153.76 L447.32 1154.49 L450.33 1155.21 L453.34 1155.93 L456.35 1156.65 L459.35 1157.37 L462.36 1158.08 L465.37 1158.79 L468.38 1159.5 L471.39 1160.2 L474.39 1160.9 L477.4 1161.59 L480.41 1162.29 L483.42 1162.98 L486.43 1163.66 L489.43 1164.35 L492.44 1165.03 L495.45 1165.71 L498.46 1166.38 L501.46 1167.06 L504.47 1167.73 L507.48 1168.39 L510.49 1169.06 L513.5 1169.72 L516.5 1170.38 L519.51 1171.04 L522.52 1171.69 L525.53 1172.34 L528.54 1172.99 L531.54 1173.64 L534.55 1174.28 L537.56 1174.92 L540.57 1175.56 L543.58 1176.2 L546.58 1176.84 L549.59 1177.47 L552.6 1178.1 L555.61 1178.73 L558.62 1179.35 L561.62 1179.98 L564.63 1180.6 L567.64 1181.22 L570.65 1181.84 L573.65 1182.46 L576.66 1183.07 L579.67 1183.68 L582.68 1184.29 L585.69 1184.9 L588.69 1185.51 L591.7 1186.12 L594.71 1186.72 L597.72 1187.32 L600.73 1187.92 L603.73 1188.52 L606.74 1189.12 L609.75 1189.71 L612.76 1190.31 L615.77 1190.9 L618.77 1191.49 L621.78 1192.08 L624.79 1192.67 L627.8 1193.26 L630.81 1193.84 L633.81 1194.43 L636.82 1195.01 L639.83 1195.59 L642.84 1196.17 L645.84 1196.75 L648.85 1197.33 L651.86 1197.91 L654.87 1198.48 L657.88 1199.06 L660.88 1199.63 L663.89 1200.2 L666.9 1200.77"/>
</g>
<rect x="134.5" y="703.1" width="540.2" height="539.8" fill="none" stroke="#000" stroke-width="1.9"/>
<g fill="none" stroke-width="3.45">
<path stroke="#ff0000" stroke-dasharray="20.25 20.25 6.75 20.25" d="M593.4 732.8H641"/>
<path stroke="#006400" stroke-dasharray="13.5 13.5 13.5 40.5" d="M593.4 775.1H641"/>
<path stroke="#00008b" stroke-dasharray="13.5 20.25" d="M593.4 817.6H641"/>
</g>
<text transform="translate(552.3 744.6) scale(.8 1)" class="dsf" style="font-size:34px">&#947;&#947;</text>
<text x="543.4" y="785.6" style="font-size:34.7px">gg</text>
<text x="546.6" y="828.9" style="font-size:34.7px">Z</text>
<text transform="translate(567.4 829.1) scale(.8 1)" class="dsf" style="font-size:34px">&#947;</text>
<g transform="translate(27.55 1071.75) rotate(-90)">
<text transform="scale(0.991 1)" style="font-size:38.8px">BR(S</text>
<text transform="translate(90.4 -0.15) scale(1.146 0.97)" style="font-family:'DejaVu Sans',sans-serif;font-weight:bold;font-size:39px;stroke-width:0">&#8594; </text>
<text transform="translate(133.95 0) scale(0.991 1)" style="font-size:38.8px">XX)</text>
</g>
<text transform="translate(404.7 1330.95) scale(1.056 1)" text-anchor="middle" style="font-size:30px">m<tspan font-size="26" dy="9.2">S</tspan><tspan dy="-9.2" dx="-1.6"> [TeV]</tspan></text>
</g>
</svg></body></html>
